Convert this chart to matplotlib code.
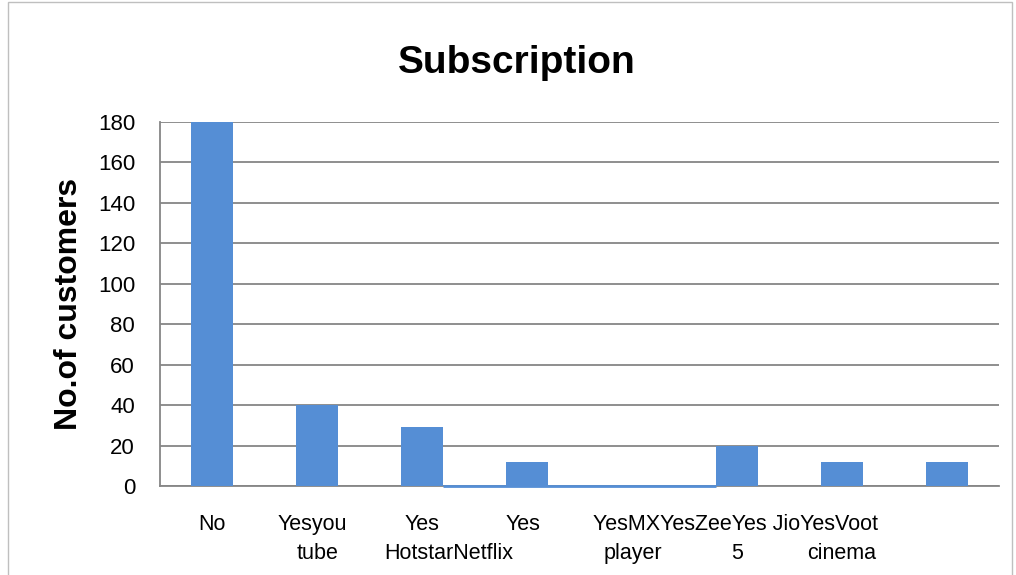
import numpy as np
import matplotlib.pyplot as plt
from matplotlib.patches import Rectangle

# data
categories = ["No", "Yes you tube", "Yes Hotstar", "Yes Netflix",
              "Yes MX player", "Yes Zee 5", "Yes Jio cinema", "Yes Voot"]
customers = [180, 40, 29, 12, 0, 20, 12, 12]

# the axis labels as they show up in the original (overlapping, wrapped)
label_top = ["No", "Yesyou", "Yes", "Yes", "YesMXYesZeeYes JioYesVoot"]
label_top_x = [0, 0.955, 2.0, 2.96, 3.63]
label_top_ha = ["center", "center", "center", "center", "left"]
label_bot = ["tube", "HotstarNetflix", "player", "5", "cinema"]
label_bot_x = [1.0, 1.64, 4.01, 5.0, 6.0]
label_bot_ha = ["center", "left", "center", "center", "center"]

BLUE = "#558ed5"
GRID = "#868686"


def main():
    plt.rcParams['font.family'] = ['Liberation Sans', 'DejaVu Sans']

    fig = plt.figure(figsize=(10.16, 5.75), dpi=100)
    ax = fig.add_axes([160/1016, 1 - 486/575, (999-160)/1016, (486-122)/575])

    x = np.arange(len(categories))
    ax.bar(x, customers, width=0.4, color=BLUE, zorder=3)
    # thin blue baseline seen between Hotstar and Zee bars
    ax.hlines(0, x[2] + 0.2, x[5] - 0.2, color=BLUE, lw=2, zorder=4, clip_on=False)

    ax.set_xlim(-0.5, len(categories) - 0.5)
    ax.set_ylim(0, 180)
    ax.set_yticks(np.arange(0, 181, 20))
    ax.tick_params(axis='y', length=0, pad=18, labelsize=16)
    ax.set_xticks([])
    ax.grid(axis='y', color=GRID, lw=1.3, zorder=0)
    for side in ['top', 'right']:
        ax.spines[side].set_visible(False)
    ax.spines['left'].set_color(GRID)
    ax.spines['bottom'].set_color(GRID)
    ax.spines['left'].set_linewidth(1.3)
    ax.spines['bottom'].set_linewidth(1.3)

    trans = ax.get_xaxis_transform()
    for s, xv, ha in zip(label_top, label_top_x, label_top_ha):
        ax.text(xv, -0.105, s, transform=trans, ha=ha, va='center', fontsize=15.5)
    for s, xv, ha in zip(label_bot, label_bot_x, label_bot_ha):
        ax.text(xv, -0.185, s, transform=trans, ha=ha, va='center', fontsize=15.5)

    ax.set_ylabel("No.of customers", fontsize=23, fontweight='bold', labelpad=10)
    fig.text(0.509, 0.89, "Subscription", ha='center', va='center',
             fontsize=28, fontweight='bold')

    # chart border
    fig.patches.append(Rectangle((8/1016, -0.01), (1012-8)/1016, 1 - 2/575 + 0.01,
                                 transform=fig.transFigure, fill=False,
                                 edgecolor="#bfbfbf", lw=1))

    fig.savefig("out.png", dpi=100)


if __name__ == "__main__":
    main()
